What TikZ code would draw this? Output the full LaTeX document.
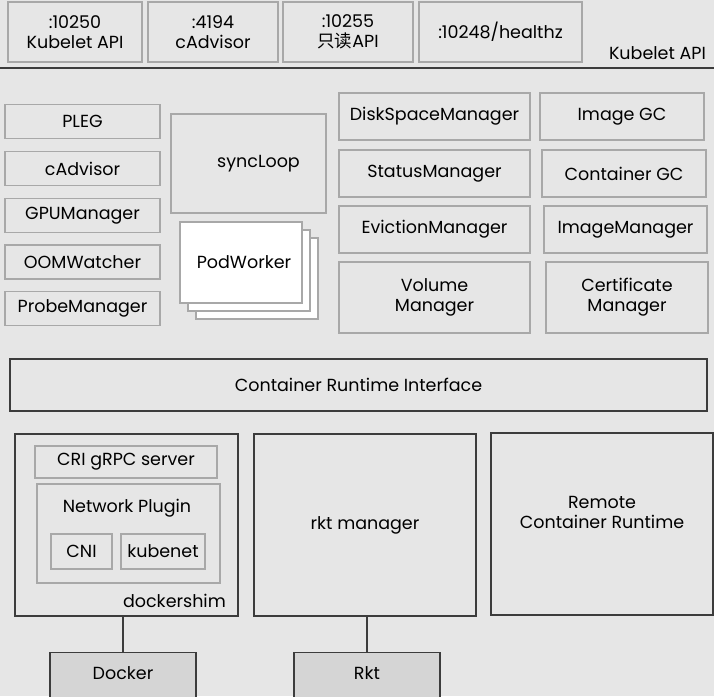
\documentclass[tikz,border=0pt]{standalone}
\usepackage{fontspec}
\setmainfont{Poppins}
\newfontfamily\cjk{Noto Sans CJK SC}
\definecolor{bggray}{HTML}{E6E6E6}
\definecolor{linegray}{HTML}{A8A8A8}
\definecolor{darkline}{HTML}{3C3C3C}
\definecolor{enginegray}{HTML}{D5D5D5}

\begin{document}
\begin{tikzpicture} [x = 1pt, y = -1pt,
  lbox/.style = {draw = linegray, line width = 1.2pt, inner sep = 0pt, align = center,
    font = \fontsize{17.5}{20}\selectfont},
  dbox/.style = {lbox, draw = darkline},
  engine/.style = {dbox, fill = enginegray, anchor = north, inner ysep = 14pt,
    text height = 13pt, text depth = 40pt},
  worker/.style = {lbox, fill = white},
  tag/.style = {font = \fontsize{17.5}{20}\selectfont, inner sep = 0pt}]
\clip (0, 0) rectangle (714, 696);
\fill[bggray] (0, 0) rectangle (714, 696);

\node[lbox, minimum width = 134pt, minimum height = 60pt] (kubeletapi) at (75, 32) {:10250\\Kubelet API};
\node[lbox, minimum width = 130pt, minimum height = 60pt] (cadvisorapi) at (213, 32) {:4194\\cAdvisor};
\node[lbox, minimum width = 130pt, minimum height = 60pt] (readonlyapi) at (348, 32) {:10255\\{\cjk 只读}API};
\node[lbox, minimum width = 163pt, minimum height = 60pt] (healthz) at (500.5, 32) {:10248/healthz};
\node[tag, anchor = south east] (apilabel) at (706, 60) {Kubelet API};
\draw[darkline, line width = 2pt] (0, 68) -- (714, 68);

\node[lbox, minimum width = 155pt, minimum height = 34pt] (pleg) at (82.5, 121.5) {PLEG};
\node[lbox, minimum width = 155pt, minimum height = 34pt] (cadvisor) at (82.5, 168.5) {cAdvisor};
\node[lbox, minimum width = 155pt, minimum height = 34pt] (gpumanager) at (82.5, 215.5) {GPUManager};
\node[lbox, minimum width = 155pt, minimum height = 34pt] (oomwatcher) at (82.5, 262) {OOMWatcher};
\node[lbox, minimum width = 155pt, minimum height = 34pt] (probemanager) at (82.5, 308.5) {ProbeManager};

\node[lbox, minimum width = 155pt, minimum height = 99pt] (syncloop) at (248.5, 163.5) {\hspace{20pt}syncLoop};
\node[worker, minimum width = 122pt, minimum height = 81pt] (podworker3) at (257, 278.5) {};
\node[worker, minimum width = 122pt, minimum height = 81pt] (podworker2) at (249, 270.5) {};
\node[worker, minimum width = 122pt, minimum height = 81pt] (podworker) at (241, 262.5) {\hspace{6pt}PodWorker};

\node[lbox, minimum width = 191pt, minimum height = 47pt] (diskspace) at (434.5, 116.5) {DiskSpaceManager};
\node[lbox, minimum width = 191pt, minimum height = 47pt] (status) at (434.5, 173.5) {StatusManager};
\node[lbox, minimum width = 191pt, minimum height = 47pt] (eviction) at (434.5, 229.5) {EvictionManager};
\node[lbox, minimum width = 191pt, minimum height = 71pt] (volume) at (434.5, 297.5) {Volume\\Manager};

\node[lbox, minimum width = 164pt, minimum height = 47pt] (imagegc) at (622, 116.5) {Image GC};
\node[lbox, minimum width = 164pt, minimum height = 47pt] (containergc) at (624, 173.5) {Container GC};
\node[lbox, minimum width = 163pt, minimum height = 47pt] (imagemanager) at (625.5, 229.5) {ImageManager};
\node[lbox, minimum width = 162pt, minimum height = 71pt] (certificate) at (627, 297.5) {Certificate\\Manager};

\node[dbox, minimum width = 697pt, minimum height = 52pt] (cri) at (358.5, 385) {Container Runtime Interface};

\node[dbox, minimum width = 223pt, minimum height = 182pt] (dockershim) at (126.5, 525) {};
\node[tag, anchor = south east] (shimlabel) at (226, 608) {dockershim};
\node[lbox, minimum width = 182pt, minimum height = 32pt] (grpc) at (126, 462) {CRI gRPC server};
\node[lbox, minimum width = 183pt, minimum height = 99pt] (netplugin) at (128.5, 533.5) {};
\node[tag] (netlabel) at (127, 508) {Network Plugin};
\node[lbox, minimum width = 61pt, minimum height = 35pt] (cni) at (81.5, 551.5) {CNI};
\node[lbox, minimum width = 84pt, minimum height = 35pt] (kubenet) at (163, 551.5) {kubenet};

\node[dbox, minimum width = 222pt, minimum height = 182pt] (rktmanager) at (365, 525) {rkt manager};
\node[dbox, minimum width = 222pt, minimum height = 182pt] (remote) at (602, 524) {Remote\\Container Runtime\\[4pt]};

\node[engine, minimum width = 146pt] (docker) at (123, 652) {Docker};
\node[engine, minimum width = 146pt] (rkt) at (367, 652) {Rkt};

\draw[darkline, line width = 1.2pt] (docker.north) -- (docker.north |- dockershim.south);
\draw[darkline, line width = 1.2pt] (rkt.north) -- (rkt.north |- rktmanager.south);
\end{tikzpicture}
\end{document}
